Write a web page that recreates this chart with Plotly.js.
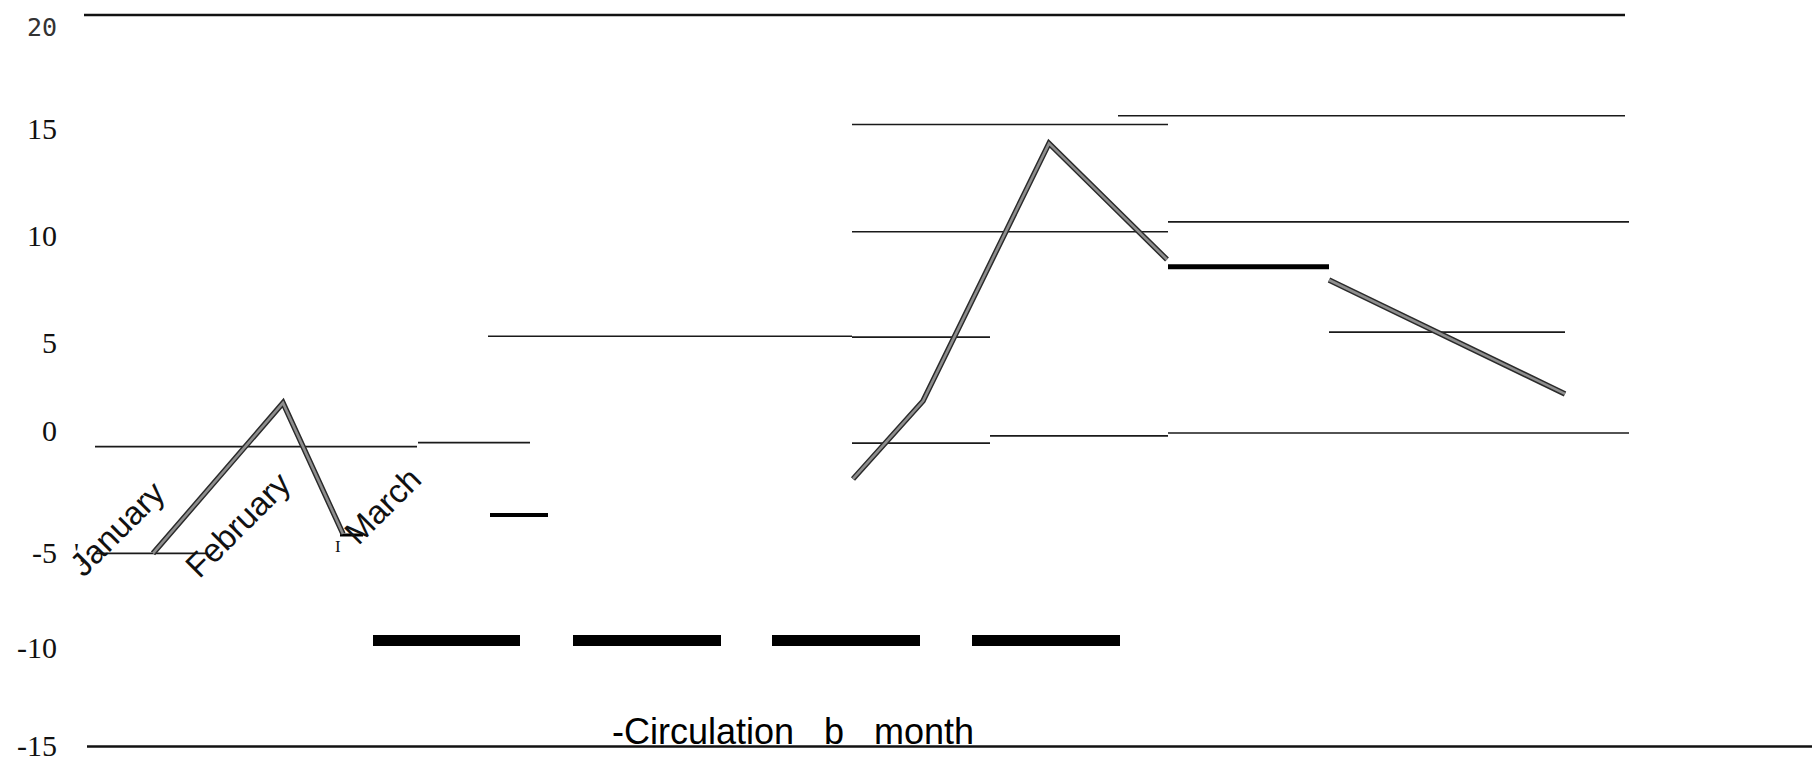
<!DOCTYPE html>
<html><head><meta charset="utf-8">
<script src="https://cdn.plot.ly/plotly-3.0.1.min.js"></script>
<style>html,body{margin:0;padding:0;background:#fff;overflow:hidden}#chart{width:1812px;height:764px}</style>
</head><body><div id="chart"></div>
<script>
// ---- data ----
const months = ['January', 'February', 'March'];
const monthX = [1.17, 2.38, 3.83];
const monthY = [-4.55, -4.40, -3.49];

const yTickVals = [19.52, 14.59, 9.47, 4.35, 0.14, -5.74, -10.24, -14.93];
const yTickText = ['20', '15', '10', '5', '0', '-5', '-10', '-15'];

const frameLevel = [20, -15];
const frameStart = [0.84, 0.87];
const frameEnd   = [16.25, 18.12];

const thinLevel = [-0.65, -0.46, 4.63, 4.59, 14.76, 15.18, 9.63, 10.10, -0.48, -0.14, 0.00, 4.83, -5.76];
const thinStart = [0.95, 4.18, 4.88, 8.52, 8.52, 11.18, 8.52, 11.68, 8.52, 9.90, 11.68, 13.29, 0.95];
const thinEnd   = [4.17, 5.30, 8.52, 9.90, 11.68, 16.25, 11.68, 16.29, 9.90, 11.68, 16.29, 15.65, 2.07];

const barLevel = [-9.93, -9.93, -9.93, -9.93];
const barStart = [3.73, 5.73, 7.72, 9.72];
const barEnd   = [5.20, 7.21, 9.20, 11.20];

const markLevel = [-3.92, 7.96, -4.88];
const markStart = [4.90, 11.68, 3.40];
const markEnd   = [5.48, 13.29, 3.63];

const circX = [[1.53, 2.83, 3.43], [8.53, 9.23, 10.49, 11.67], [13.29, 15.65]];
const circY = [[-5.76, 1.44, -4.83], [-2.20, 1.53, 13.86, 8.30], [7.32, 1.87]];

const titleText = '-Circulation\u00a0\u00a0\u00a0b\u00a0\u00a0\u00a0month';

// ---- styles ----
const markWidth = [4, 5, 3];

function segs(level, start, end) {
  const x = [], y = [];
  for (let i = 0; i < level.length; i++) {
    x.push(start[i], end[i], null);
    y.push(level[i], level[i], null);
  }
  return {x, y};
}

const traces = [];
const fr = segs(frameLevel, frameStart, frameEnd);
traces.push({x: fr.x, y: fr.y, mode: 'lines', line: {color: '#111', width: 2.6}, hoverinfo: 'skip'});
const th = segs(thinLevel, thinStart, thinEnd);
traces.push({x: th.x, y: th.y, mode: 'lines', line: {color: '#1a1a1a', width: 1.7}, hoverinfo: 'skip'});
const br = segs(barLevel, barStart, barEnd);
traces.push({x: br.x, y: br.y, mode: 'lines', line: {color: '#000', width: 11}, hoverinfo: 'skip'});
for (let i = 0; i < markLevel.length; i++) {
  traces.push({x: [markStart[i], markEnd[i]], y: [markLevel[i], markLevel[i]], mode: 'lines',
    line: {color: '#000', width: markWidth[i]}, hoverinfo: 'skip'});
}
for (let k = 0; k < circX.length; k++) {
  traces.push({x: circX[k], y: circY[k], mode: 'lines', line: {color: '#2a2a2a', width: 5.5}, hoverinfo: 'skip'});
  traces.push({x: circX[k], y: circY[k], mode: 'lines', line: {color: '#8e8e8e', width: 2.6}, hoverinfo: 'skip'});
}

const ticktext = yTickText.map(t => t === '20'
  ? '<span style="font-family:\'DejaVu Sans Mono\';font-size:25px;fill:#333">' + t + '</span>' : t);

const annotations = months.map((m, i) => ({
  x: monthX[i], y: monthY[i], xref: 'x', yref: 'y', text: m, showarrow: false,
  textangle: -45, xanchor: 'center', yanchor: 'middle',
  font: {family: 'Liberation Sans, Arial, sans-serif', size: 33, color: '#111'}
}));
annotations.push({x: 0.72, y: -5.74, xref: 'x', yref: 'y', text: "',", showarrow: false,
  xanchor: 'left', yanchor: 'middle', font: {family: 'Liberation Serif, serif', size: 28, color: '#111'}});
annotations.push({x: 3.375, y: -5.45, xref: 'x', yref: 'y', text: 'I', showarrow: false,
  xanchor: 'center', yanchor: 'middle', font: {family: 'Liberation Serif, serif', size: 17, color: '#111'}});
annotations.push({x: 7.93, y: -14.26, xref: 'x', yref: 'y', text: titleText, showarrow: false,
  xanchor: 'center', yanchor: 'middle', font: {family: 'Liberation Sans, Arial, sans-serif', size: 36, color: '#000'}});

const layout = {
  width: 1812, height: 764,
  margin: {l: 58, r: 0, t: 0, b: 0, pad: 0},
  paper_bgcolor: '#fff', plot_bgcolor: '#fff',
  showlegend: false,
  xaxis: {range: [0.58, 18.12], visible: false, showgrid: false, zeroline: false, fixedrange: true},
  yaxis: {range: [-15.837, 20.718], tickvals: yTickVals, ticktext: ticktext, ticks: '',
    ticklabeloverflow: 'allow', showgrid: false, zeroline: false, showline: false, fixedrange: true,
    tickfont: {family: 'Liberation Serif, serif', size: 30, color: '#111'}},
  annotations: annotations
};

Plotly.newPlot('chart', traces, layout, {staticPlot: true, displayModeBar: false});
</script>
</body></html>
